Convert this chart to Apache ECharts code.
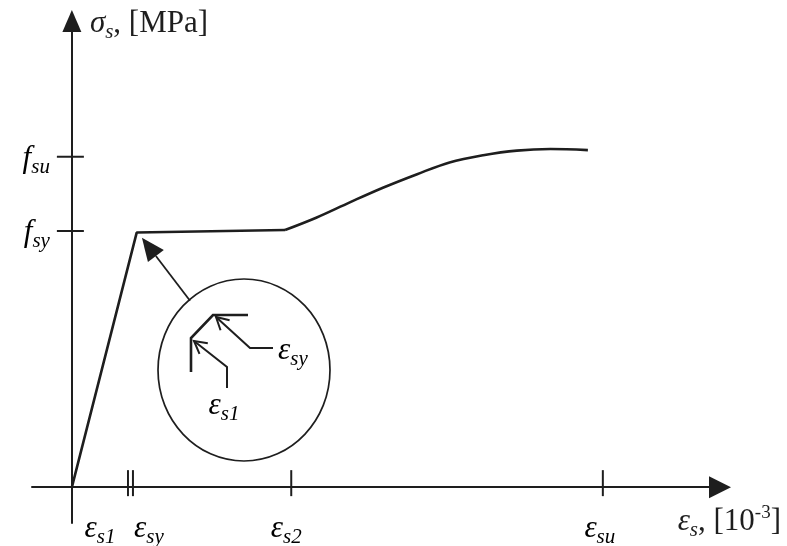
<!DOCTYPE html>
<html><head><meta charset="utf-8">
<script src="https://cdn.jsdelivr.net/npm/echarts@6/dist/echarts.min.js"></script>
<style>html,body{margin:0;padding:0;background:#fff}#c{width:787px;height:546px}</style>
</head><body><div id="c"></div>
<script>
// ---- data ----
const elasticPlateau = [[0, 0], [2.6, 497], [8.55, 502]];
const hardening = [[8.55, 502], [9.8, 526], [11.15, 556], [12.5, 585], [13.85, 611], [15.15, 634], [16.5, 648], [17.85, 657], [19.2, 660], [20.7, 658]];
const xTickValues = [2.25, 2.45, 8.8, 21.3];
const xTickSubs = ['s1', 'sy', 's2', 'su'];
const yTickValues = [500, 645];
const yTickSubs = ['sy', 'su'];
const pointerFrom = [4.74, 364];
const pointerTo = [2.81, 487];
// magnified detail (inset) in its own units
const insetCircle = [86, 91, 86, 91];
const insetCurve = [[33, 89], [33, 123], [55, 146], [90, 146]];
const insetArrowS1 = [[69, 73], [69, 94], [36, 120]];
const insetArrowSy = [[115, 113], [92, 113], [58, 144]];
const insetLabelPos = [[66, 55], [120, 110]];
const insetLabelSubs = ['s1', 'sy'];

// ---- styling ----
const SERIF = '"Liberation Serif","Times New Roman",serif';
const C = '#1e1e1e';
const xLabelDx = [-28, 16, -5, -3];
const rich = {
  e: { fontFamily: SERIF, fontStyle: 'italic', fontSize: 31, color: C, lineHeight: 38, verticalAlign: 'middle' },
  s: { fontFamily: SERIF, fontStyle: 'italic', fontSize: 21, color: C, lineHeight: 26, verticalAlign: 'bottom' },
  n: { fontFamily: SERIF, fontSize: 31, color: C, lineHeight: 38, verticalAlign: 'middle' },
  p: { fontFamily: SERIF, fontSize: 19, color: C, lineHeight: 20, verticalAlign: 'top' }
};

const chart = echarts.init(document.getElementById('c'), null, { renderer: 'canvas' });

function arrowV(pts, api, len, ang) {
  const a = api.coord(pts[pts.length - 2]), b = api.coord(pts[pts.length - 1]);
  const th = Math.atan2(b[1] - a[1], b[0] - a[0]);
  const p1 = [b[0] - len * Math.cos(th - ang), b[1] - len * Math.sin(th - ang)];
  const p2 = [b[0] - len * Math.cos(th + ang), b[1] - len * Math.sin(th + ang)];
  return { b, p1, p2 };
}

const option = {
  backgroundColor: '#fff',
  animation: false,
  grid: [
    { left: 32, right: 67, top: 21, bottom: 23 },
    { left: 158, top: 279, width: 172, height: 182 }
  ],
  xAxis: [
    {
      type: 'value', gridIndex: 0, min: -1.6, max: 26,
      axisLine: { onZero: true, symbol: ['none', 'triangle'], symbolSize: [22, 22], lineStyle: { color: C, width: 2 } },
      axisTick: { show: false }, axisLabel: { show: false }, splitLine: { show: false },
      name: '{e|ε}{s|s}{n|, [10}{p|-3}{n|]}', nameLocation: 'end', nameGap: 61,
      nameTextStyle: { rich, align: 'right', verticalAlign: 'top', padding: [16, 0, 0, 0] }
    },
    { type: 'value', gridIndex: 1, min: 0, max: 172, show: false }
  ],
  yAxis: [
    {
      type: 'value', gridIndex: 0, min: -70, max: 910,
      axisLine: { onZero: true, symbol: ['none', 'triangle'], symbolSize: [19, 22], lineStyle: { color: C, width: 2 } },
      axisTick: { show: false }, axisLabel: { show: false }, splitLine: { show: false },
      name: '{e|σ}{s|s}{n|, [MPa]}', nameLocation: 'end', nameGap: -3,
      nameTextStyle: { rich, align: 'left', verticalAlign: 'middle', padding: [0, 0, 0, 18] }
    },
    { type: 'value', gridIndex: 1, min: 0, max: 182, show: false }
  ],
  series: [
    {
      type: 'line', xAxisIndex: 0, yAxisIndex: 0, data: elasticPlateau, symbol: 'none',
      lineStyle: { color: C, width: 2.6 }, silent: true
    },
    {
      type: 'line', xAxisIndex: 0, yAxisIndex: 0, data: hardening, symbol: 'none', smooth: 0.35,
      lineStyle: { color: C, width: 2.6 }, silent: true
    },
    {
      type: 'custom', xAxisIndex: 0, yAxisIndex: 0, silent: true, z: 4,
      data: xTickValues.map((v, i) => [v, 0, i]),
      renderItem(params, api) {
        const p = api.coord([api.value(0), 0]);
        const i = api.value(2);
        return {
          type: 'group', children: [
            { type: 'line', shape: { x1: p[0], y1: p[1] - 17, x2: p[0], y2: p[1] + 9 }, style: { stroke: C, lineWidth: 2 } },
            { type: 'text', style: { text: '{e|ε}{s|' + xTickSubs[i] + '}', rich, x: p[0] + xLabelDx[i], y: p[1] + 42, align: 'center', verticalAlign: 'middle' } }
          ]
        };
      }
    },
    {
      type: 'custom', xAxisIndex: 0, yAxisIndex: 0, silent: true, z: 4,
      data: yTickValues.map((v, i) => [0, v, i]),
      renderItem(params, api) {
        const p = api.coord([0, api.value(1)]);
        const i = api.value(2);
        return {
          type: 'group', children: [
            { type: 'line', shape: { x1: p[0] - 15, y1: p[1], x2: p[0] + 12, y2: p[1] }, style: { stroke: C, lineWidth: 2 } },
            { type: 'text', style: { text: '{e|f}{s|' + yTickSubs[i] + '}', rich, x: p[0] - 22, y: p[1] + 2, align: 'right', verticalAlign: 'middle' } }
          ]
        };
      }
    },
    {
      type: 'custom', xAxisIndex: 0, yAxisIndex: 0, silent: true, z: 4,
      data: [[pointerFrom[0], pointerFrom[1], pointerTo[0], pointerTo[1]]],
      renderItem(params, api) {
        const a = api.coord([api.value(0), api.value(1)]);
        const b = api.coord([api.value(2), api.value(3)]);
        const th = Math.atan2(b[1] - a[1], b[0] - a[0]);
        const L = 23, W = 10;
        const base = [b[0] - L * Math.cos(th), b[1] - L * Math.sin(th)];
        const nx = -Math.sin(th), ny = Math.cos(th);
        return {
          type: 'group', children: [
            { type: 'line', shape: { x1: a[0], y1: a[1], x2: base[0], y2: base[1] }, style: { stroke: C, lineWidth: 1.8 } },
            { type: 'polygon', shape: { points: [b, [base[0] + W * nx, base[1] + W * ny], [base[0] - W * nx, base[1] - W * ny]] }, style: { fill: C } }
          ]
        };
      }
    },
    {
      type: 'custom', xAxisIndex: 1, yAxisIndex: 1, silent: true, z: 4,
      data: [insetCircle],
      renderItem(params, api) {
        const c = api.coord([api.value(0), api.value(1)]);
        const r = api.size([api.value(2), api.value(3)]);
        return { type: 'ellipse', shape: { cx: c[0], cy: c[1], rx: r[0], ry: r[1] }, style: { stroke: C, lineWidth: 1.7, fill: 'none' } };
      }
    },
    {
      type: 'custom', xAxisIndex: 1, yAxisIndex: 1, silent: true, z: 4,
      data: [[0], [1], [2]],
      renderItem(params, api) {
        const paths = [insetCurve, insetArrowS1, insetArrowSy];
        const k = params.dataIndex;
        const pts = paths[k].map(q => api.coord(q));
        const children = [{ type: 'polyline', shape: { points: pts }, style: { stroke: C, lineWidth: k === 0 ? 2.6 : 2, fill: 'none' } }];
        if (k > 0) {
          const v = arrowV(paths[k], api, 14, 0.5);
          children.push({ type: 'polyline', shape: { points: [v.p1, v.b, v.p2] }, style: { stroke: C, lineWidth: 2, fill: 'none' } });
        }
        return { type: 'group', children };
      }
    },
    {
      type: 'custom', xAxisIndex: 1, yAxisIndex: 1, silent: true, z: 4,
      data: insetLabelPos.map((q, i) => [q[0], q[1], i]),
      renderItem(params, api) {
        const p = api.coord([api.value(0), api.value(1)]);
        const i = api.value(2);
        return { type: 'text', style: { text: '{e|ε}{s|' + insetLabelSubs[i] + '}', rich, x: p[0], y: p[1], align: i === 0 ? 'center' : 'left', verticalAlign: 'middle' } };
      }
    }
  ]
};
chart.setOption(option);
</script>
</body></html>
